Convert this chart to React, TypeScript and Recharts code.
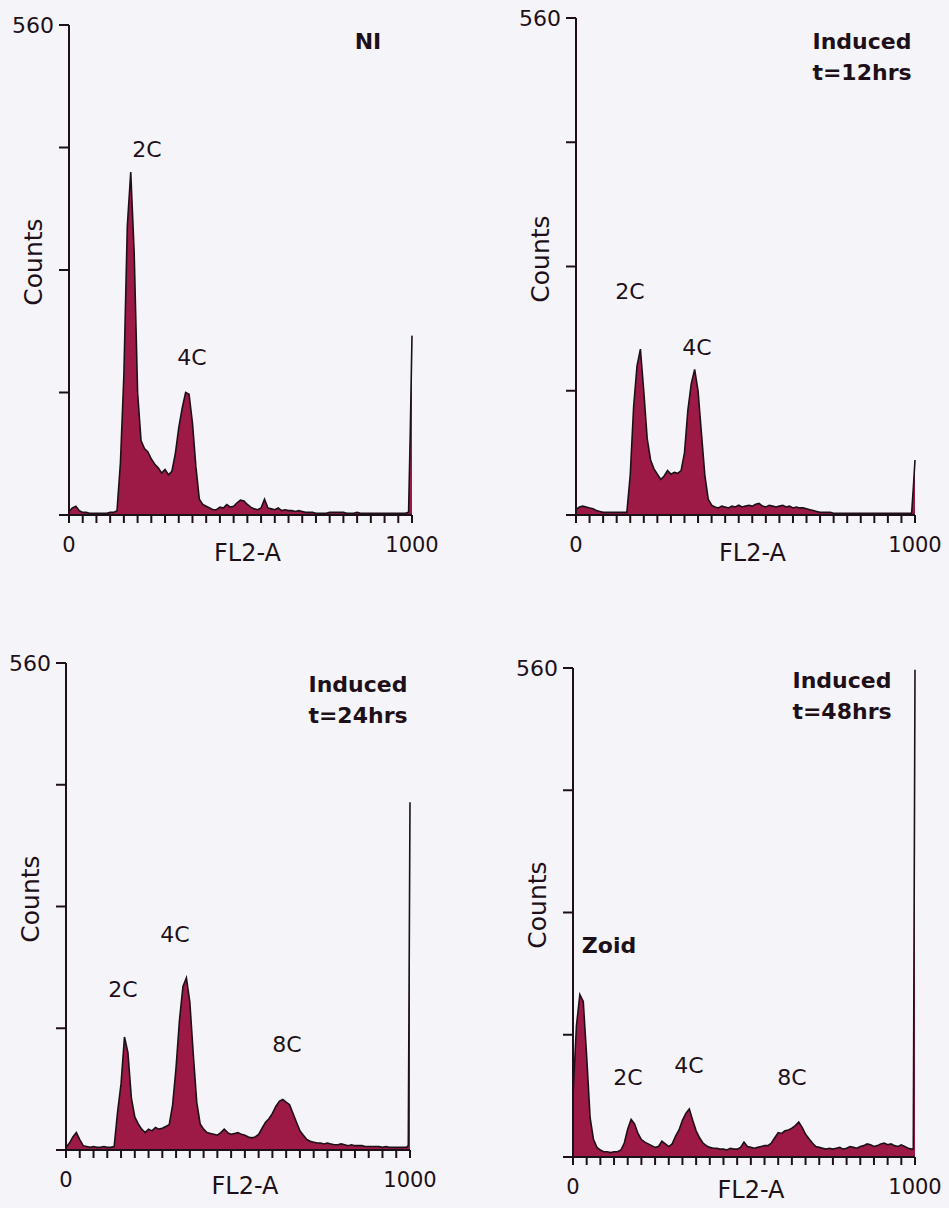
import React from "react"
import { AreaChart, Area, XAxis, YAxis } from "recharts"

// FL2-A channels (x) shared by all four histograms
const CHANNELS = [
  0, 10, 20, 30, 40, 50, 60, 70, 80, 90,
  100, 110, 120, 130, 140, 150, 160, 170, 180, 190,
  200, 210, 220, 230, 240, 250, 260, 270, 280, 290,
  300, 310, 320, 330, 340, 350, 360, 370, 380, 390,
  400, 410, 420, 430, 440, 450, 460, 470, 480, 490,
  500, 510, 520, 530, 540, 550, 560, 570, 580, 590,
  600, 610, 620, 630, 640, 650, 660, 670, 680, 690,
  700, 710, 720, 730, 740, 750, 760, 770, 780, 790,
  800, 810, 820, 830, 840, 850, 860, 870, 880, 890,
  900, 910, 920, 930, 940, 950, 960, 970, 980, 990,
  995, 1000,
]

// counts
const NI_COUNTS = [
  4, 8, 10, 5, 3, 3, 2, 2, 2, 2,
  2, 2, 3, 3, 5, 60, 160, 330, 392, 300,
  140, 85, 76, 72, 64, 58, 54, 48, 52, 46,
  50, 70, 100, 122, 140, 138, 105, 55, 18, 12,
  10, 8, 6, 6, 9, 8, 12, 9, 10, 14,
  17, 16, 12, 9, 7, 6, 8, 18, 8, 7,
  6, 8, 5, 6, 5, 5, 4, 5, 4, 3,
  3, 3, 2, 2, 2, 2, 3, 3, 3, 3,
  3, 2, 2, 2, 3, 2, 2, 2, 2, 2,
  2, 2, 2, 2, 2, 2, 2, 2, 2, 3,
  95, 205,
]

const H12_COUNTS = [
  6, 9, 10, 9, 8, 7, 5, 4, 3, 3,
  3, 3, 3, 3, 3, 3, 45, 122, 168, 187,
  139, 86, 62, 52, 46, 40, 44, 50, 46, 48,
  47, 50, 70, 118, 148, 164, 140, 92, 45, 18,
  11, 9, 8, 10, 9, 8, 10, 9, 11, 9,
  10, 11, 10, 12, 13, 10, 9, 11, 10, 9,
  10, 11, 9, 10, 8, 9, 8, 8, 7, 6,
  5, 4, 3, 3, 3, 3, 2, 2, 2, 2,
  2, 2, 2, 2, 2, 2, 2, 2, 2, 2,
  2, 2, 2, 2, 2, 2, 2, 2, 2, 2,
  30, 62,
]

const H24_COUNTS = [
  3, 8, 15, 20, 12, 5, 4, 3, 4, 3,
  3, 4, 3, 3, 4, 44, 76, 130, 112, 60,
  38, 30, 24, 20, 24, 22, 26, 24, 25, 27,
  29, 52, 95, 150, 188, 198, 170, 110, 55, 30,
  24, 20, 19, 18, 17, 20, 24, 20, 18, 19,
  20, 18, 17, 15, 14, 15, 18, 25, 32, 36,
  42, 50, 56, 58, 55, 52, 42, 32, 22, 17,
  12, 10, 9, 8, 8, 7, 8, 7, 6, 6,
  7, 6, 5, 6, 5, 5, 5, 4, 4, 4,
  4, 4, 3, 4, 3, 3, 3, 3, 3, 3,
  5, 400,
]

const H48_COUNTS = [
  70, 150, 186, 178, 115, 45, 20, 11, 8, 6,
  6, 5, 6, 6, 8, 16, 32, 43, 38, 27,
  20, 17, 15, 13, 11, 12, 18, 15, 12, 15,
  24, 31, 42, 50, 55, 42, 30, 22, 16, 13,
  11, 10, 10, 9, 9, 8, 10, 9, 9, 11,
  17, 12, 11, 10, 11, 12, 13, 13, 16, 22,
  28, 27, 30, 31, 33, 36, 40, 34, 26, 21,
  16, 12, 11, 10, 9, 10, 9, 10, 11, 9,
  10, 12, 11, 10, 12, 13, 15, 14, 12, 13,
  15, 16, 14, 15, 13, 12, 14, 12, 10, 9,
  9, 558,
]

const X_TICKS = [
  0, 40, 80, 120, 160, 200, 240, 280, 320, 360, 400, 440, 480,
  520, 560, 600, 640, 680, 720, 760, 800, 840, 880, 920, 960, 1000,
]
const X_LABELS = [0, 1000]
const Y_TICKS = [0, 140, 280, 420, 560]
const Y_LABELS = [560]

const INK = "#1e1019"
const FILL = "#9e1a46"
const FONT = "'DejaVu Sans', Verdana, sans-serif"

const PANELS = [
  {
    id: "ni", counts: NI_COUNTS, axisX: 69, right: 412, top: 25, base: 515, axisTitleGap: 38,
    title: ["NI"], titleAt: [368, 41],
    notes: [["2C", 147, 150, 400], ["4C", 192, 358, 400]],
  },
  {
    id: "h12", counts: H12_COUNTS, axisX: 576, right: 915, top: 18, base: 515, axisTitleGap: 38,
    title: ["Induced", "t=12hrs"], titleAt: [862, 57],
    notes: [["2C", 630, 292, 400], ["4C", 697, 348, 400]],
  },
  {
    id: "h24", counts: H24_COUNTS, axisX: 66, right: 410, top: 663, base: 1150, axisTitleGap: 36,
    title: ["Induced", "t=24hrs"], titleAt: [358, 700],
    notes: [["4C", 175, 935, 400], ["2C", 123, 990, 400], ["8C", 287, 1045, 400]],
  },
  {
    id: "h48", counts: H48_COUNTS, axisX: 573, right: 915, top: 668, base: 1157, axisTitleGap: 33,
    title: ["Induced", "t=48hrs"], titleAt: [842, 696],
    notes: [["Zoid", 609, 946, 700], ["2C", 628, 1078, 400], ["4C", 689, 1066, 400], ["8C", 792, 1078, 400]],
  },
]

const XTick = (props: any) => {
  const { x, y, payload } = props
  if (!X_LABELS.includes(payload.value)) return <g />
  return (
    <text x={x} y={y} dy={27} textAnchor="middle" fontSize={21} fontFamily={FONT} fill={INK}>
      {payload.value}
    </text>
  )
}

const YTick = (props: any) => {
  const { x, y, payload } = props
  if (!Y_LABELS.includes(payload.value)) return <g />
  return (
    <text x={x} y={y} dx={-3} dy={8} textAnchor="end" fontSize={22} fontFamily={FONT} fill={INK}>
      {payload.value}
    </text>
  )
}

function Text({ x, y, size = 22, weight = 400, rotate = 0, lh = "31px", children }: any) {
  return (
    <div
      style={{
        position: "absolute",
        left: x,
        top: y,
        transform: `translate(-50%, -50%) rotate(${rotate}deg)`,
        fontFamily: FONT,
        fontSize: size,
        fontWeight: weight,
        color: INK,
        lineHeight: lh,
        whiteSpace: "nowrap",
        textAlign: "center",
      }}
    >
      {children}
    </div>
  )
}

function Histogram({ p }: any) {
  const data = CHANNELS.map((x, i) => ({ x, count: p.counts[i] }))
  const plotW = p.right - p.axisX
  const plotH = p.base - p.top
  return (
    <>
      <div style={{ position: "absolute", left: p.axisX - 70, top: p.top - 20 }}>
        <AreaChart
          width={plotW + 100}
          height={plotH + 80}
          data={data}
          margin={{ top: 20, right: 30, bottom: 0, left: 0 }}
        >
          <XAxis
            type="number"
            dataKey="x"
            domain={[0, 1000]}
            ticks={X_TICKS}
            interval={0}
            height={60}
            tickSize={8}
            axisLine={{ stroke: INK, strokeWidth: 2 }}
            tickLine={{ stroke: INK, strokeWidth: 2 }}
            tick={XTick}
          />
          <YAxis
            type="number"
            domain={[0, 560]}
            ticks={Y_TICKS}
            interval={0}
            width={70}
            tickSize={10}
            allowDataOverflow
            axisLine={{ stroke: INK, strokeWidth: 2 }}
            tickLine={{ stroke: INK, strokeWidth: 2 }}
            tick={YTick}
          />
          <Area
            type="linear"
            dataKey="count"
            stroke={INK}
            strokeWidth={1.6}
            fill={FILL}
            fillOpacity={1}
            isAnimationActive={false}
          />
        </AreaChart>
      </div>
      <Text x={p.axisX - 36} y={(p.top + p.base) / 2 - 8} size={25} rotate={-90} lh="1">
        Counts
      </Text>
      <Text x={(p.axisX + p.right) / 2 + 7} y={p.base + p.axisTitleGap} size={24} lh="1">
        FL2-A
      </Text>
      <Text x={p.titleAt[0]} y={p.titleAt[1]} weight={700}>
        {p.title.map((t: string) => (
          <div key={t}>{t}</div>
        ))}
      </Text>
      {p.notes.map(([label, x, y, w]: any) => (
        <Text key={label} x={x} y={y} weight={w} lh="1">
          {label}
        </Text>
      ))}
    </>
  )
}

export default function App() {
  return (
    <div
      style={{
        position: "absolute",
        left: 0,
        top: 0,
        width: 949,
        height: 1208,
        background: "#f5f5f9",
        overflow: "hidden",
      }}
    >
      {PANELS.map((p) => (
        <Histogram key={p.id} p={p} />
      ))}
    </div>
  )
}
